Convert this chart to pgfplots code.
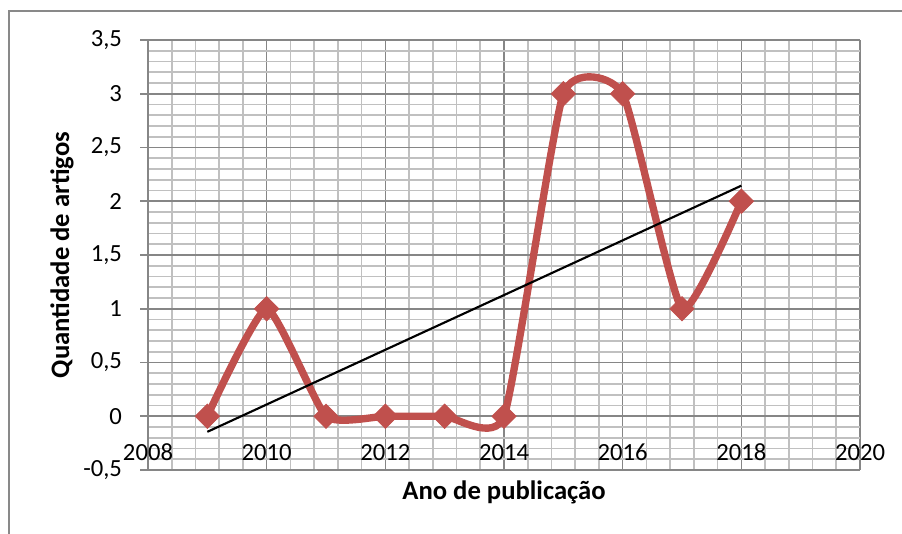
\documentclass[border=0pt]{standalone}
\usepackage{fontspec}
\setmainfont{Carlito}
\usepackage{pgfplots}
\pgfplotsset{compat=1.18}
\definecolor{serie}{HTML}{C0504D}
\definecolor{gridmaj}{HTML}{868686}
\definecolor{gridmin}{HTML}{C0C0C0}
\definecolor{moldura}{HTML}{898989}
\begin{document}
\begin{tikzpicture}
\begin{axis}[
  scale only axis, width=534pt, height=322.5pt,
  at={(0,0)}, anchor=south west,
  xmin=2008, xmax=2020, ymin=-0.5, ymax=3.5,
  xtick={2008,2010,2012,2014,2016,2018,2020},
  ytick={-0.5,0,0.5,1,1.5,2,2.5,3,3.5},
  minor x tick num=4, minor y tick num=4,
  grid=both,
  major grid style={draw=gridmaj, line width=1.2pt},
  minor grid style={draw=gridmin, line width=1.2pt},
  axis x line=middle, axis y line=left,
  hide obscured x ticks=false,
  axis line style={draw=gridmaj, line width=1.2pt, -},
  tick align=outside, major tick length=6pt, minor tick length=0pt,
  tick style={draw=gridmaj, line width=1.2pt},
  /pgf/number format/assume math mode=true,
  /pgf/number format/use comma,
  /pgf/number format/1000 sep={},
  ticklabel style={font=\fontsize{18.5}{22}\selectfont},
  xticklabel style={anchor=base, yshift=-27.5pt},
  yticklabel style={xshift=-10pt},
  xlabel={Ano de publicação}, ylabel={Quantidade de artigos},
  every axis x label/.style={at={(rel axis cs:0.5,0)}, yshift=-16.5pt, anchor=center,
    font=\bfseries\fontsize{20}{24}\selectfont},
  every axis y label/.style={at={(rel axis cs:0,0.5)}, xshift=-64.5pt, rotate=90, anchor=center,
    font=\bfseries\fontsize{20}{24}\selectfont},
]
\addplot[serie, line width=5.5pt, smooth, tension=0.3,
  mark=square*, mark size=6.5pt,
  mark options={rotate=45, fill=serie, draw=serie, line width=0.5pt, solid}]
  coordinates {(2009,0)(2010,1)(2011,0)(2012,0)(2013,0)(2014,0)(2015,3)(2016,3)(2017,1)(2018,2)};
% linha de tendencia (linear)
\addplot[black, line width=1.6pt] coordinates {(2009,-0.145)(2018,2.145)};
\end{axis}
\draw[moldura, line width=1.5pt] (-104.25pt,-80pt) -- (-104.25pt,344.6pt) -- (600pt,344.6pt);
\pgfresetboundingbox
\useasboundingbox (-111pt,-47.25pt) rectangle (565.5pt,352.5pt);
\end{tikzpicture}
\end{document}
